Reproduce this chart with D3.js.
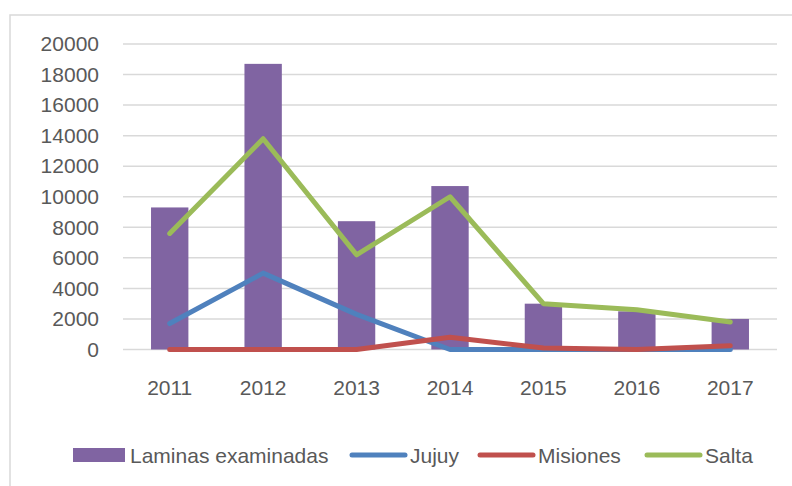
<!DOCTYPE html>
<html>
<head>
<meta charset="utf-8">
<script src="https://cdn.jsdelivr.net/npm/d3@7"></script>
<style>
  body { margin: 0; background: #fff; }
  text { font-family: "Liberation Sans", Arial, sans-serif; fill: #595959; }
</style>
</head>
<body>
<div id="chart"></div>
<script>
// data
const years = ['2011', '2012', '2013', '2014', '2015', '2016', '2017'];
const laminas = [9300, 18700, 8400, 10700, 3000, 2500, 2000];
const jujuy = [1700, 5000, 2300, 0, 0, 0, 0];
const misiones = [0, 0, 0, 800, 100, 0, 250];
const salta = [7600, 13800, 6200, 10000, 3000, 2600, 1800];
const yTicks = [0, 2000, 4000, 6000, 8000, 10000, 12000, 14000, 16000, 18000, 20000];

const lineSeries = [
  { name: 'Jujuy', values: jujuy, color: '#4F81BD' },
  { name: 'Misiones', values: misiones, color: '#C0504D' },
  { name: 'Salta', values: salta, color: '#9BBB59' }
];

let width = 792;
let height = 486;
let margin = { left: 123, right: 15, top: 44, bottom: 136.5 };
let fontSize = '21px';

let svg = d3.select('#chart').append('svg')
    .attr('width', width)
    .attr('height', height);

// chart frame
svg.append('rect')
    .attr('x', 10).attr('y', 15)
    .attr('width', 800).attr('height', 500)
    .attr('fill', 'none')
    .attr('stroke', '#D9D9D9')
    .attr('stroke-width', 1.5);

let x = d3.scaleBand()
    .domain(years)
    .range([margin.left, width - margin.right])
    .paddingInner(0.6)
    .paddingOuter(0.3);

let y = d3.scaleLinear()
    .domain([0, 20000])
    .range([height - margin.bottom, margin.top]);

// gridlines
svg.append('g')
    .selectAll('line')
    .data(yTicks)
    .enter()
    .append('line')
    .attr('x1', margin.left)
    .attr('x2', width - margin.right)
    .attr('y1', d => y(d))
    .attr('y2', d => y(d))
    .attr('stroke', '#D9D9D9')
    .attr('stroke-width', 1.5);

// y axis labels
let yAxis = d3.axisLeft(y).tickValues(yTicks).tickSize(0).tickPadding(24).tickFormat(d3.format('d'));
svg.append('g')
    .attr('transform', 'translate(' + margin.left + ',0)')
    .call(yAxis)
    .call(g => g.select('.domain').remove())
    .selectAll('text')
    .style('font-size', fontSize)
    .attr('fill', '#595959');

// x axis labels
let xAxis = d3.axisBottom(x).tickSize(0).tickPadding(31);
svg.append('g')
    .attr('transform', 'translate(0,' + y(0) + ')')
    .call(xAxis)
    .call(g => g.select('.domain').remove())
    .selectAll('text')
    .style('font-size', fontSize)
    .attr('fill', '#595959');

// bars
svg.append('g')
    .selectAll('rect')
    .data(laminas)
    .enter()
    .append('rect')
    .attr('x', (d, i) => x(years[i]))
    .attr('y', d => y(d))
    .attr('width', x.bandwidth())
    .attr('height', d => y(0) - y(d))
    .attr('fill', '#8064A2');

// lines
let line = d3.line()
    .x((d, i) => x(years[i]) + x.bandwidth() / 2)
    .y(d => y(d));

svg.append('g')
    .selectAll('path')
    .data(lineSeries)
    .enter()
    .append('path')
    .attr('d', d => line(d.values))
    .attr('fill', 'none')
    .attr('stroke', d => d.color)
    .attr('stroke-width', 5)
    .attr('stroke-linejoin', 'round')
    .attr('stroke-linecap', 'round');

// legend
let legendY = 455;
let legend = svg.append('g');
legend.append('rect')
    .attr('x', 73).attr('y', legendY - 7)
    .attr('width', 52).attr('height', 14)
    .attr('fill', '#8064A2');
legend.append('text')
    .attr('x', 130).attr('y', legendY + 7.5)
    .style('font-size', fontSize)
    .text('Laminas examinadas');

let legendLines = [352, 480, 647];
lineSeries.forEach((s, i) => {
    legend.append('line')
        .attr('x1', legendLines[i]).attr('x2', legendLines[i] + 53)
        .attr('y1', legendY).attr('y2', legendY)
        .attr('stroke', s.color)
        .attr('stroke-width', 5)
        .attr('stroke-linecap', 'round');
    legend.append('text')
        .attr('x', legendLines[i] + 58).attr('y', legendY + 7.5)
        .style('font-size', fontSize)
        .text(s.name);
});
</script>
</body>
</html>
